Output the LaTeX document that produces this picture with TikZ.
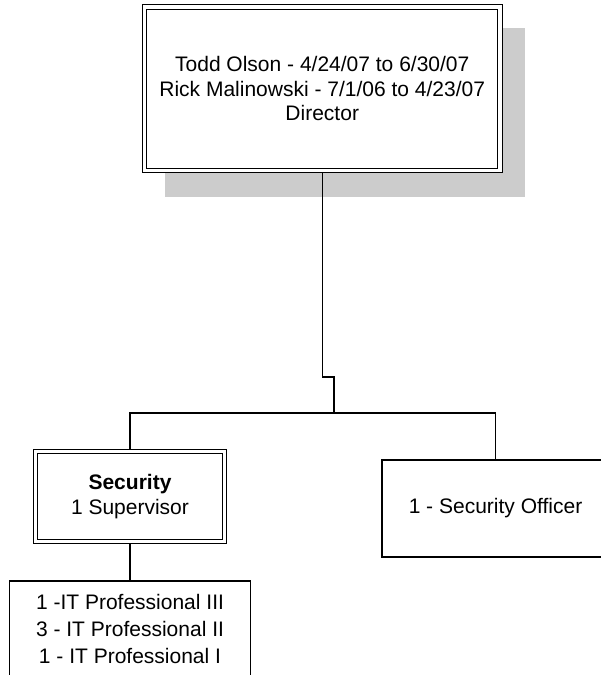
\documentclass[tikz,border=0pt]{standalone}
\usepackage{fontspec}
\setmainfont{Liberation Sans}
\begin{document}
\begin{tikzpicture}[x=1pt,y=-1pt]
\tikzset{
  box/.style={draw, line width=1.3pt, fill=white, inner sep=0pt, align=center},
  dbox/.style={box, double, double distance=3.4pt, line width=1.1pt, outer sep=2.8pt},
  link/.style={line width=1.3pt},
  shadowbox/.style={fill=black!20, draw=none, inner sep=0pt},
  txt/.style={font=\fontsize{21}{#1}\selectfont},
}
\useasboundingbox (0,0) rectangle (601,675);
\clip (0,0) rectangle (601,675);
% shadow of the director box
\node[shadowbox, minimum width=360pt, minimum height=169pt] (dirshadow) at (345,112.5) {};
% boxes
\node[dbox, txt=24.5, minimum width=355.5pt, minimum height=163.5pt] (dir) at (322.25,88.75)
  {Todd Olson - 4/24/07 to 6/30/07\\Rick Malinowski - 7/1/06 to 4/23/07\\Director};
\node[dbox, txt=25, minimum width=189pt, minimum height=90pt] (sec) at (130,496.5)
  {\textbf{Security}\\1 Supervisor};
\node[box, txt=25, minimum width=227pt, minimum height=97pt] (off) at (495.5,508.5)
  {1 - Security Officer};
\node[box, txt=27, minimum width=241pt, minimum height=96pt] (it) at (130,629)
  {1 -IT Professional III\\3 - IT Professional II\\1 - IT Professional I};
% connectors
\coordinate (j1) at (322.25,377);
\coordinate (j2) at (334,377);
\coordinate (bus) at (334,413);
\draw[link] (dir.south) -- (j1) -- (j2) -- (bus);
\draw[link] (sec.north) |- (bus) -| (off.north);
\draw[link] (sec.south) -- (it.north);
\end{tikzpicture}
\end{document}
